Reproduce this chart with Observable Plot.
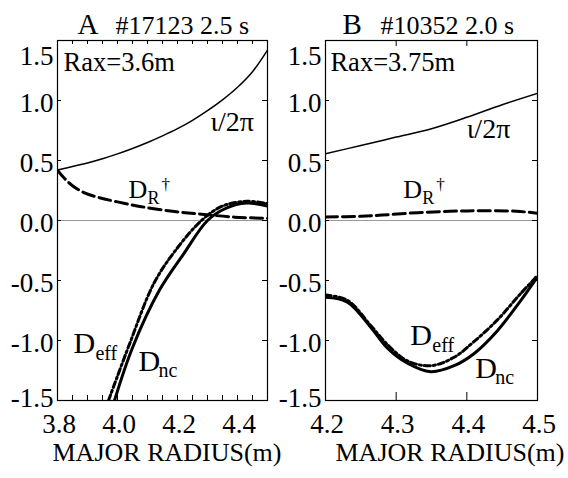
<!DOCTYPE html>
<html><head><meta charset="utf-8">
<script src="https://cdn.jsdelivr.net/npm/d3@7"></script>
<script src="https://cdn.jsdelivr.net/npm/@observablehq/plot@0.6"></script>
<style>
html,body{margin:0;padding:0;background:#fff;}
#wrap{position:relative;width:568px;height:478px;overflow:hidden;background:#fff;}
#wrap svg{position:absolute;top:0;}
#wrap svg, #wrap svg text{font-family:"Liberation Serif","Times New Roman",serif !important;}
</style></head><body><div id="wrap"></div>
<script>
// ---------- Panel A (#17123, 2.5 s, Rax=3.6m) ----------
const rA_iota = [3.80,3.85,3.90,3.95,4.00,4.05,4.10,4.15,4.20,4.25,4.30,4.35,4.40,4.45,4.50];
const iotaA   = [0.42,0.45,0.48,0.515,0.555,0.60,0.65,0.705,0.765,0.835,0.915,1.005,1.11,1.24,1.42];
const rA_dr   = [3.80,3.82,3.85,3.89,3.94,4.00,4.08,4.19,4.28,4.39,4.50];
const drA     = [0.42,0.36,0.29,0.23,0.19,0.155,0.115,0.075,0.053,0.028,0.018];
const rA_nc   = [3.99,4.05,4.14,4.22,4.30,4.36,4.43,4.50];
const ncA     = [-1.50,-1.06,-0.58,-0.28,0.00,0.10,0.145,0.12];
const rA_eff  = [3.97,4.04,4.12,4.19,4.28,4.35,4.43,4.50];
const effA    = [-1.50,-1.03,-0.53,-0.26,0.00,0.12,0.16,0.14];

// ---------- Panel B (#10352, 2.0 s, Rax=3.75m) ----------
const rB_iota = [4.20,4.25,4.30,4.35,4.40,4.45,4.50];
const iotaB   = [0.556,0.625,0.695,0.765,0.86,0.965,1.06];
const rB_dr   = [4.20,4.25,4.28,4.33,4.40,4.47,4.50];
const drB     = [0.03,0.035,0.045,0.065,0.08,0.077,0.06];
const rB_nc   = [4.200,4.231,4.264,4.287,4.316,4.349,4.382,4.410,4.443,4.476,4.500];
const ncB     = [-0.64,-0.68,-0.89,-1.06,-1.19,-1.26,-1.21,-1.11,-0.92,-0.67,-0.47];
const effB    = [-0.62,-0.665,-0.875,-1.03,-1.17,-1.21,-1.14,-1.01,-0.83,-0.61,-0.46];

// ---------- ticks ----------
const yTicksMid   = [-1.0,-0.5,0.0,0.5,1.0];
const yTop        = [1.5];
const yBottom     = [-1.5];
const xTicksA     = [3.8,4.0,4.2,4.4];
const xMinorA     = [3.85,3.9,3.95,4.0,4.05,4.1,4.15,4.2,4.25,4.3,4.35,4.4,4.45];
const xTicksB     = [4.2,4.3,4.4,4.5];
const xInnerB     = [4.3,4.4];

const FONT = "Liberation Serif";
const H = 478, MT = 40, MB = 78, IH = H - MT - MB;
const fmt = d => d.toFixed(1);

function lbl(x, y, text, size, dx = 0, dy = 0) {
  return Plot.text([text], {x: [x], y: [y], text: d => d, fontSize: size, textAnchor: "start",
    lineAnchor: "bottom", dx, dy, fill: "black", fontFamily: FONT});
}
function ftxt(text, anchor, size, dx, dy) {
  return Plot.text([text], {frameAnchor: anchor, text: d => d, fontSize: size, textAnchor: "start",
    lineAnchor: "bottom", dx, dy, fill: "black", fontFamily: FONT});
}
function series(r, v, opts) {
  return Plot.line(v, {x: (d, i) => r[i], y: d => d, stroke: "black", curve: "catmull-rom", clip: true, ...opts});
}

function panel(cfg) {
  const IW = cfg.width - cfg.ml - cfg.mr;
  const ax = {tickSize: 0, tickPadding: 4, fontSize: 27, tickFormat: fmt, label: null, fontFamily: FONT};
  return Plot.plot({
    width: cfg.width, height: H,
    marginLeft: cfg.ml, marginRight: cfg.mr, marginTop: MT, marginBottom: MB,
    style: {fontFamily: FONT, background: "transparent", overflow: "visible", color: "black"},
    x: {domain: cfg.xDomain, label: null},
    y: {domain: [-1.5, 1.5], label: null},
    marks: [
      Plot.ruleY([0], {stroke: "#9a9a9a", strokeWidth: 1}),
      series(cfg.r_iota, cfg.iota, {strokeWidth: 1.5}),
      series(cfg.r_dr, cfg.dr, {strokeWidth: 3, strokeDasharray: "12,5"}),
      series(cfg.r_nc, cfg.nc, {strokeWidth: 3}),
      series(cfg.r_eff, cfg.eff, {strokeWidth: 3, strokeDasharray: "6,3,2,3"}),
      Plot.tickX(cfg.bottomTicks, {x: d => d, insetTop: IH - cfg.lenB, stroke: "black", strokeWidth: 1}),
      Plot.tickX(cfg.topTicks, {x: d => d, insetBottom: IH - cfg.lenT, stroke: "black", strokeWidth: 1}),
      Plot.tickY(yTicksMid, {y: d => d, insetRight: IW - 4, stroke: "black", strokeWidth: 1}),
      Plot.tickY(yTicksMid, {y: d => d, insetLeft: IW - 5, stroke: "black", strokeWidth: 1}),
      Plot.frame({stroke: "black", strokeWidth: 1.2}),
      Plot.axisY(yTicksMid, {...ax, dy: 3}),
      Plot.axisY(yTop, {...ax, dy: 16}),
      Plot.axisY(yBottom, {...ax, dy: -2}),
      Plot.axisX(cfg.xTicks, {...ax, tickPadding: 13, dx: 1.5}),
      ftxt(cfg.letter, "top-left", 29, cfg.letterDx, -7),
      ftxt(cfg.title, "top-left", 26, cfg.titleDx, -7),
      ftxt("MAJOR RADIUS(m)", "bottom-left", 26, cfg.axDx, 60),
      ...cfg.labels
    ]
  });
}

const A = panel({
  width: 290, ml: 57, mr: 23, xDomain: [3.8, 4.5], xTicks: xTicksA,
  bottomTicks: xMinorA, topTicks: xMinorA, lenB: 5, lenT: 4,
  r_iota: rA_iota, iota: iotaA, r_dr: rA_dr, dr: drA, r_nc: rA_nc, nc: ncA, r_eff: rA_eff, eff: effA,
  letter: "A", letterDx: 20, title: "#17123 2.5 s", titleDx: 58, axDx: -5,
  labels: [
    lbl(3.82, 1.25, "Rax=3.6m", 26.5),
    lbl(4.31, 0.75, "ι/2π", 28),
    lbl(4.037, 0.19, "D", 26), lbl(4.037, 0.19, "R", 18, 19, 6), lbl(4.037, 0.19, "†", 17, 33, -8),
    lbl(3.853, -1.108, "D", 30), lbl(3.853, -1.108, "eff", 20, 22, 7),
    lbl(4.07, -1.25, "D", 30), lbl(4.07, -1.25, "nc", 20, 20, 6)
  ]
});

const B = panel({
  width: 300, ml: 57, mr: 31, xDomain: [4.2, 4.5], xTicks: xTicksB,
  bottomTicks: xInnerB, topTicks: xInnerB, lenB: 8, lenT: 6,
  r_iota: rB_iota, iota: iotaB, r_dr: rB_dr, dr: drB, r_nc: rB_nc, nc: ncB, r_eff: rB_nc, eff: effB,
  letter: "B", letterDx: 17, title: "#10352 2.0 s", titleDx: 55, axDx: 10,
  labels: [
    lbl(4.207, 1.25, "Rax=3.75m", 26.5),
    lbl(4.40, 0.69, "ι/2π", 28),
    lbl(4.31, 0.19, "D", 26), lbl(4.31, 0.19, "R", 18, 19, 6), lbl(4.31, 0.19, "†", 17, 33, -8),
    lbl(4.32, -1.04, "D", 30), lbl(4.32, -1.04, "eff", 20, 22, 7),
    lbl(4.412, -1.31, "D", 30), lbl(4.412, -1.31, "nc", 20, 20, 6)
  ]
});

A.style.left = "0px";
B.style.left = "268px";
const wrap = document.getElementById("wrap");
wrap.appendChild(A);
wrap.appendChild(B);
</script></body></html>
